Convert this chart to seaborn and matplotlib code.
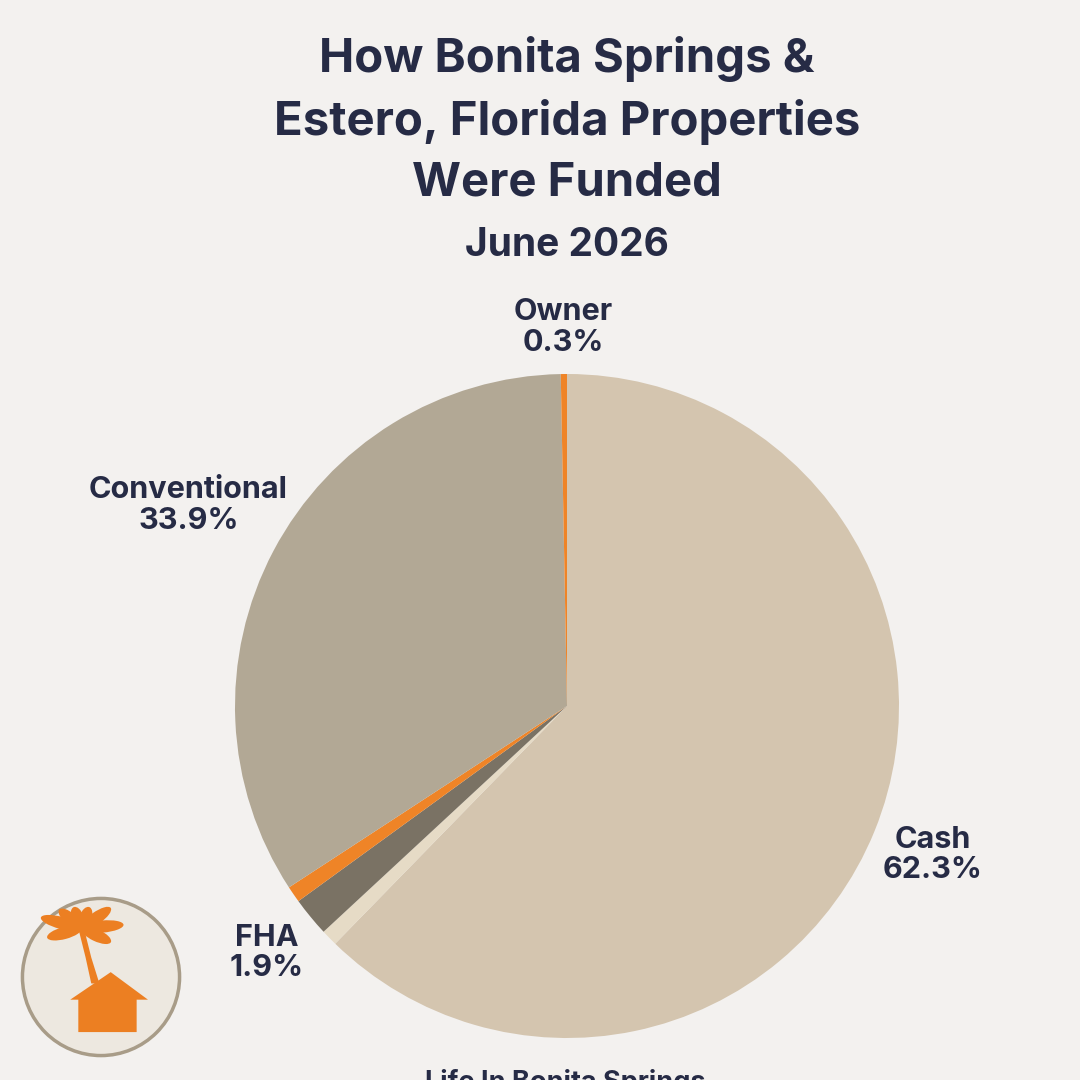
import numpy as np
import matplotlib
matplotlib.use("Agg")
import matplotlib.pyplot as plt
import seaborn as sns
from matplotlib.patches import Circle, Polygon, Ellipse

# data (clockwise from 12 o'clock)
categories = ["Cash", "Other", "FHA", "VA", "Conventional", "Owner"]
shares = [62.3, 0.8, 1.9, 0.8, 33.9, 0.3]
slice_colors = ["#D4C5AF", "#E6DBC6", "#7A7264", "#EF8427", "#B2A895", "#EF8427"]
show_label = [True, False, True, False, True, True]
label_dist = [1.19, 1.2, 1.17, 1.2, 1.29, 1.14]

title = "How Bonita Springs &\nEstero, Florida Properties\nWere Funded"
subtitle = "June 2026"
footer = "Life In Bonita Springs"

BG = "#F3F1EF"
INK = "#262B45"
ORANGE = "#EC7F22"

sns.set_theme(style="white")
plt.rcParams["font.family"] = ["Inter", "DejaVu Sans"]

fig = plt.figure(figsize=(10.8, 10.8), dpi=100, facecolor=BG)

# pie axes: centre ~ (567, 706) px, radius ~ 332 px
cx, cy, r = 567 / 1080, 1 - 706 / 1080, 332 / 1080
ax = fig.add_axes([cx - r, cy - r, 2 * r, 2 * r])
ax.set_facecolor(BG)
wedges, _ = ax.pie(shares, colors=slice_colors, startangle=90, counterclock=False,
                   radius=1, wedgeprops=dict(linewidth=0))
ax.set_xlim(-1, 1)
ax.set_ylim(-1, 1)
ax.set_aspect("equal")
ax.axis("off")

for w, name, val, show, d in zip(wedges, categories, shares, show_label, label_dist):
    if not show:
        continue
    ang = np.deg2rad((w.theta1 + w.theta2) / 2)
    ax.text(d * np.cos(ang), d * np.sin(ang), f"{name}\n{val}%", ha="center", va="center",
            fontsize=22, fontweight="bold", color=INK, linespacing=1.1, clip_on=False)

fig.text(0.525, 1 - 121 / 1080, title, ha="center", va="center", fontsize=34,
         fontweight="bold", color=INK, linespacing=1.48)
fig.text(0.525, 1 - 245 / 1080, subtitle, ha="center", va="center", fontsize=28,
         fontweight="bold", color=INK)
fig.text(0.523, 1 - 1069 / 1080, footer, ha="center", va="top", fontsize=19.5,
         fontweight="bold", color=INK)

# logo badge
lx = fig.add_axes([20 / 1080, 1 - 1058 / 1080, 162 / 1080, 162 / 1080])
lx.set_xlim(0, 100)
lx.set_ylim(0, 100)
lx.set_aspect("equal")
lx.axis("off")
lx.add_patch(Circle((50, 50), 48.5, facecolor="#EDE8E0", edgecolor="#A89C88", linewidth=2.5))
# house
lx.add_patch(Polygon([[36, 36], [36, 16], [72, 16], [72, 36], [79, 36], [56, 53], [31, 36]],
                     closed=True, facecolor=ORANGE, edgecolor="none"))
# trunk
lx.add_patch(Polygon([[36, 80], [39.5, 80], [44, 62], [49, 46], [44, 46], [40.5, 62]],
                     closed=True, facecolor=ORANGE, edgecolor="none"))
# fronds radiating from the crown
crown = np.array([38.0, 80.0])
for a, L in [(165, 26), (195, 22), (140, 18), (110, 14), (70, 14), (35, 22), (5, 26), (-25, 20)]:
    t = np.deg2rad(a)
    c = crown + 0.5 * L * np.array([np.cos(t), np.sin(t)])
    lx.add_patch(Ellipse(c, L, 7.5, angle=a, facecolor=ORANGE, edgecolor="none"))

fig.savefig("out.png", dpi=100, facecolor=BG)
